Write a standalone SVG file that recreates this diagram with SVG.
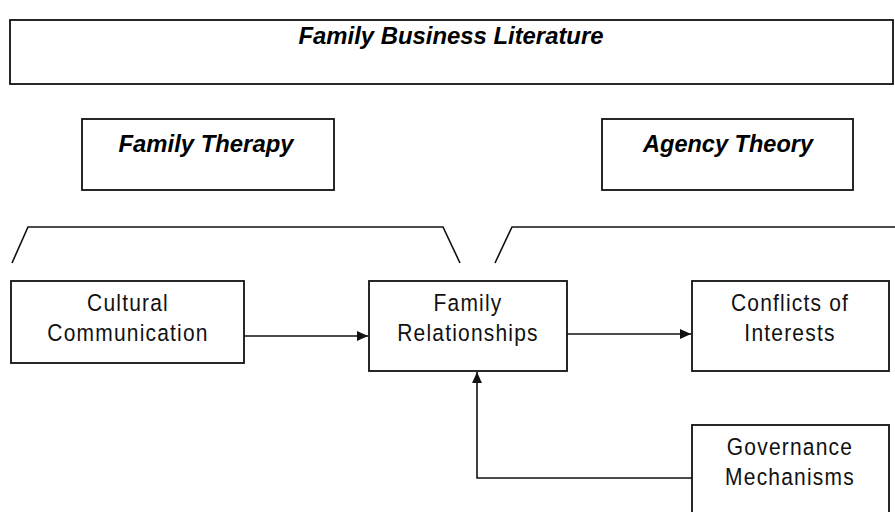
<svg xmlns="http://www.w3.org/2000/svg" width="895" height="512" viewBox="0 0 895 512">
  <style>
    .box { fill: #ffffff; stroke: #111111; stroke-width: 1.8; }
    .line { fill: none; stroke: #111111; stroke-width: 1.6; }
    .title { font-family: "Liberation Sans", Arial, sans-serif; font-size: 21px; font-weight: bold; font-style: italic; fill: #000000; text-anchor: middle; }
    .label { font-family: "Liberation Sans", Arial, sans-serif; font-size: 21px; letter-spacing: 1.2px; fill: #111111; text-anchor: middle; }
  </style>
  <defs>
    <marker id="arrow" viewBox="0 0 10 10" refX="10" refY="5" markerWidth="11" markerHeight="11" markerUnits="userSpaceOnUse" orient="auto">
      <path d="M0,0.5 L10,5 L0,9.5 Z" fill="#111111"/>
    </marker>
  </defs>
  <rect width="895" height="512" fill="#ffffff"/>

  <g id="family-business-literature">
    <rect class="box" x="10" y="20" width="883" height="64"/>
    <text class="title" transform="matrix(1 0 0 1.12 451 44)" textLength="305" lengthAdjust="spacingAndGlyphs">Family Business Literature</text>
  </g>

  <g id="family-therapy">
    <rect class="box" x="82" y="119" width="252" height="71"/>
    <text class="title" transform="matrix(1 0 0 1.12 206 152)" textLength="175" lengthAdjust="spacingAndGlyphs">Family Therapy</text>
  </g>

  <g id="agency-theory">
    <rect class="box" x="602" y="119" width="251" height="71"/>
    <text class="title" transform="matrix(1 0 0 1.12 728 152)" textLength="170" lengthAdjust="spacingAndGlyphs">Agency Theory</text>
  </g>

  <g id="brackets">
    <polyline class="line" points="12,263 28,227 443,227 460,263"/>
    <polyline class="line" points="495,263 512,227 895,227"/>
  </g>

  <g id="cultural-communication">
    <rect class="box" x="11" y="281" width="233" height="82"/>
    <text class="label" transform="matrix(1 0 0 1.18 128 311)">Cultural</text>
    <text class="label" transform="matrix(1 0 0 1.18 128 341)">Communication</text>
  </g>

  <g id="family-relationships">
    <rect class="box" x="369" y="281" width="198" height="90"/>
    <text class="label" transform="matrix(1 0 0 1.18 468 311)">Family</text>
    <text class="label" transform="matrix(1 0 0 1.18 468 341)">Relationships</text>
  </g>

  <g id="conflicts-of-interests">
    <rect class="box" x="692" y="281" width="197" height="90"/>
    <text class="label" transform="matrix(1 0 0 1.18 790 311)">Conflicts of</text>
    <text class="label" transform="matrix(1 0 0 1.18 790 341)">Interests</text>
  </g>

  <g id="governance-mechanisms">
    <rect class="box" x="692" y="425" width="197" height="100"/>
    <text class="label" transform="matrix(1 0 0 1.18 790 455)">Governance</text>
    <text class="label" transform="matrix(1 0 0 1.18 790 485)">Mechanisms</text>
  </g>

  <g id="connectors">
    <line class="line" x1="244" y1="336" x2="368" y2="336" marker-end="url(#arrow)"/>
    <line class="line" x1="567" y1="334" x2="691" y2="334" marker-end="url(#arrow)"/>
    <polyline class="line" points="692,478 477,478 477,372" marker-end="url(#arrow)"/>
  </g>
</svg>
